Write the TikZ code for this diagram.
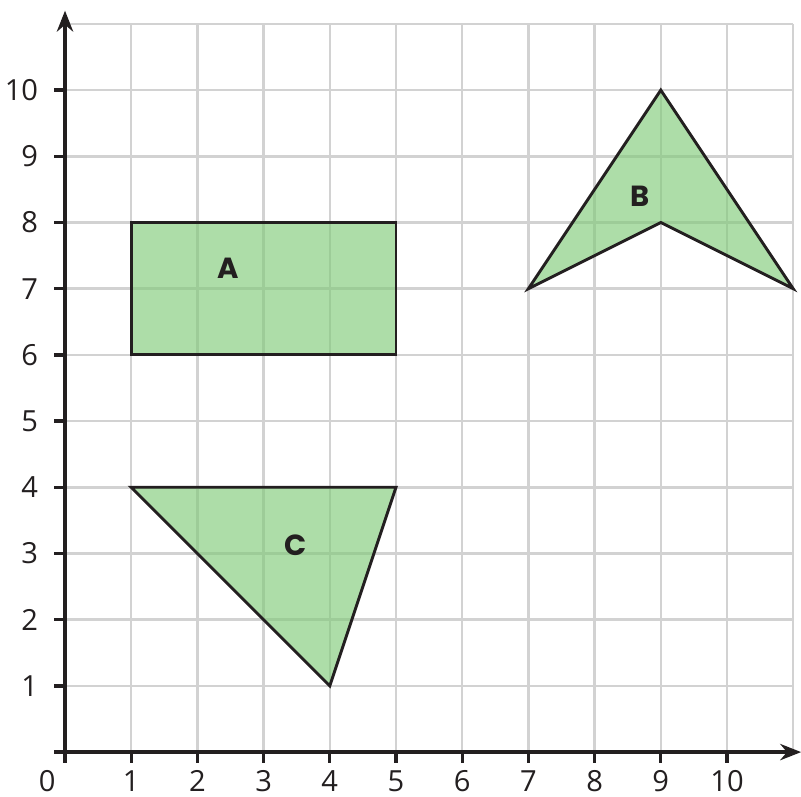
\documentclass[tikz,border=0pt]{standalone}
\usepackage{fontspec}
\setmainfont{Open Sans}
\newfontfamily\shapefont{Poppins}[BoldFont={* Bold}]
\usetikzlibrary{arrows.meta}
\definecolor{gridgray}{RGB}{210,210,210}
\definecolor{shapegreen}{RGB}{128,202,120}
\definecolor{inkblack}{RGB}{35,31,32}
\tikzset{
  gridline/.style={draw=gridgray, line width=1.1pt},
  axisline/.style={draw=inkblack, line width=1.8pt},
  tickline/.style={draw=inkblack, line width=1.4pt},
  shapefill/.style={fill=shapegreen, fill opacity=0.644, draw=inkblack, draw opacity=1, line width=1.25pt, line join=miter},
  numlabel/.style={font=\fontsize{12.5}{14}\selectfont, text=inkblack, inner sep=0pt},
  shapelabel/.style={font=\shapefont\bfseries\fontsize{12.5}{14}\selectfont, text=inkblack, inner sep=0pt}
}
\begin{document}
\begin{tikzpicture}
\useasboundingbox (-0.982,-0.664) rectangle (11.118,11.361);
% grid
\foreach \i in {1,...,11} {
  \draw[gridline] (\i,0) -- (\i,11);
  \draw[gridline] (0,\i) -- (11,\i);
}
% shapes
\coordinate (a1) at (1,6); \coordinate (a2) at (5,6); \coordinate (a3) at (5,8); \coordinate (a4) at (1,8);
\draw[shapefill] (a1) -- (a2) -- (a3) -- (a4) -- cycle;
\coordinate (b1) at (7,7); \coordinate (b2) at (9,10); \coordinate (b3) at (11,7); \coordinate (b4) at (9,8);
\draw[shapefill] (b1) -- (b2) -- (b3) -- (b4) -- cycle;
\coordinate (c1) at (1,4); \coordinate (c2) at (5,4); \coordinate (c3) at (4,1);
\draw[shapefill] (c1) -- (c2) -- (c3) -- cycle;
\node[shapelabel] (labA) at (2.46,7.31) {A};
\node[shapelabel] (labB) at (8.69,8.39) {B};
\node[shapelabel] (labC) at (3.49,3.12) {C};
% axes
\coordinate (o) at (0,0);
\coordinate (xend) at (11.12,0);
\coordinate (yend) at (0,11.2);
\draw[axisline, -{Stealth[length=9pt,width=7pt]}] (-0.02,0) -- (xend);
\draw[axisline, -{Stealth[length=9pt,width=7pt]}] (0,-0.02) -- (yend);
% ticks and labels
\foreach \i in {1,...,10} {
  \draw[tickline] (\i,0) -- (\i,-0.16);
  \node[numlabel, anchor=base] (xl\i) at (\i,-0.6) {\i};
}
\foreach \i in {1,...,10} {
  \draw[tickline] (0,\i) -- (-0.16,\i);
  \node[numlabel, anchor=east] (yl\i) at (-0.4,\i) {\i};
}
\draw[tickline] (0,0) -- (-0.16,0);
\draw[tickline] (0,0) -- (0,-0.16);
\node[numlabel, anchor=base] (zero) at (-0.27,-0.6) {0};
\end{tikzpicture}
\end{document}
